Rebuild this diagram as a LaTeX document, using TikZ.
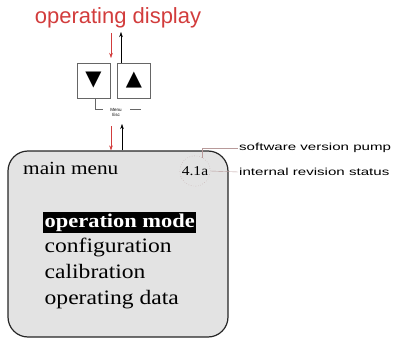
\documentclass[tikz,border=0pt]{standalone}
\usepackage{fontspec}
\usepackage{xcolor}
\usetikzlibrary{arrows.meta, positioning, calc}
\setmainfont{Liberation Serif}
\setsansfont{Liberation Sans}
\newfontfamily\symfont{DejaVu Sans}
\newfontfamily\widesans[FakeStretch=1.48]{Liberation Sans}
\newfontfamily\wideserif[FakeStretch=1.15]{Liberation Serif}
\definecolor{displayred}{HTML}{D23C3C}
\definecolor{panelgray}{HTML}{E3E3E3}
\definecolor{leadgray}{HTML}{B89A9A}

\begin{document}
\begin{tikzpicture}[x=1pt, y=-1pt, >={Stealth[length=5pt, width=3.5pt]}, thin]
  \useasboundingbox (0,0) rectangle (400,340);

  % Bedienanzeige
  \node[font=\sffamily\fontsize{22}{24}\selectfont, text=displayred] (disp) at (118,18) {operating display};

  % Tasten
  \tikzset{keybox/.style={draw=gray!80!black, minimum width=33pt, minimum height=35pt, inner sep=0pt, font=\symfont\fontsize{21}{21}\selectfont}}
  \node[keybox] (down) at (93.5,80.5) {▼};
  \node[keybox, right=7pt of down] (up) {▲};

  \draw[->, displayred] (111,33) coordinate (rin) -- (111,58);
  \draw[->] (121,63) coordinate (bout) -- (121,32);

  % Menu/Esc (beide Tasten)
  \node[font=\sffamily\fontsize{4.5}{5}\selectfont, align=center, inner sep=0.5pt] (menuesc) at (116,112) {Menu\\Esc};
  \coordinate (kl) at (103,109);
  \draw[gray!80!black] (down.south -| 95,0) |- (kl);
  \draw[gray!80!black] (130,109) -- (141,109);

  % Hauptmenue
  \node[draw=black!85, line width=1.2pt, fill=panelgray, rounded corners=20pt, minimum width=220pt, minimum height=186pt] (menu) at (118,244) {};

  \draw[->, displayred] (111,126) -- (menu.north -| 111,0);
  \draw[->] (menu.north -| 122,0) -- (122,124);

  \tikzset{item/.style={anchor=base west, inner sep=1.5pt, font=\wideserif\fontsize{20.5}{21}\selectfont}}
  \node[anchor=base west, inner sep=0pt, font=\wideserif\fontsize{18.5}{19}\selectfont] (title) at (23,175) {main menu};
  \node[draw=leadgray, dotted, circle, inner sep=1pt, font=\wideserif\fontsize{13.5}{14}\selectfont] (rev) at (195,171) {4.1a};

  \node[item, fill=black, text=white, font=\wideserif\bfseries\fontsize{19.5}{20}\selectfont] (opmode) at (43,227) {operation mode};
  \node[item] (config) at (43,252) {configuration};
  \node[item] (calib) at (43,278) {calibration};
  \node[item] (opdata) at (43,304) {operating data};

  % Versionsangaben
  \node[anchor=west, inner sep=1pt, font=\widesans\fontsize{10.2}{11}\selectfont] (sw) at (238,148) {software version pump};
  \node[anchor=west, inner sep=1pt, font=\widesans\fontsize{10.2}{11}\selectfont] (int) at (238,172) {internal revision status};
  \draw[leadgray] (rev.60) |- (sw.west);
  \draw[leadgray] (rev.east) -- (int.west);
\end{tikzpicture}
\end{document}
